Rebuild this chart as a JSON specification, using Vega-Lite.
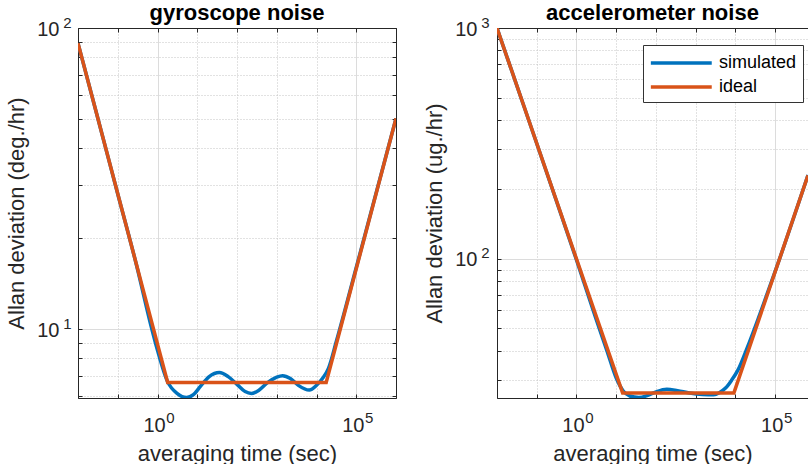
{
  "$schema": "https://vega.github.io/schema/vega-lite/v6.json",
  "padding": {"left": 5, "top": 2, "right": 0, "bottom": 0},
  "background": "white",
  "config": {
    "font": "Liberation Sans",
    "view": {"stroke": null},
    "axis": {"domainColor": "#262626", "tickColor": "#262626", "labelColor": "#262626", "titleColor": "#262626", "labelFontSize": 20, "titleFontSize": 22, "titleFontWeight": "normal", "labelFont": "Liberation Sans", "titleFont": "Liberation Sans", "gridColor": "#dcdcdc", "labelFlush": false, "labelOverlap": false},
    "title": {"fontSize": 22, "fontWeight": "bold", "color": "#000000", "anchor": "middle", "font": "Liberation Sans"}
  },
  "bounds": "flush",
  "spacing": 101,
  "resolve": {"scale": {"color": "independent"}, "legend": {"color": "independent"}},
  "datasets": {
    "gyro": [
      {"tau": 0.01, "dev": 89, "series": "simulated"},
      {"tau": 0.03, "dev": 51.4, "series": "simulated"},
      {"tau": 0.1, "dev": 28.1, "series": "simulated"},
      {"tau": 0.3, "dev": 16.2, "series": "simulated"},
      {"tau": 0.72, "dev": 10, "series": "simulated"},
      {"tau": 1, "dev": 8.5, "series": "simulated"},
      {"tau": 1.78, "dev": 6.7, "series": "simulated"},
      {"tau": 3.16, "dev": 6.1, "series": "simulated"},
      {"tau": 5.4, "dev": 5.92, "series": "simulated"},
      {"tau": 8, "dev": 6.05, "series": "simulated"},
      {"tau": 12, "dev": 6.45, "series": "simulated"},
      {"tau": 20, "dev": 6.95, "series": "simulated"},
      {"tau": 36, "dev": 7.17, "series": "simulated"},
      {"tau": 60, "dev": 6.95, "series": "simulated"},
      {"tau": 100, "dev": 6.55, "series": "simulated"},
      {"tau": 160, "dev": 6.2, "series": "simulated"},
      {"tau": 230, "dev": 6.11, "series": "simulated"},
      {"tau": 350, "dev": 6.25, "series": "simulated"},
      {"tau": 600, "dev": 6.65, "series": "simulated"},
      {"tau": 1000, "dev": 6.92, "series": "simulated"},
      {"tau": 1400, "dev": 7.0, "series": "simulated"},
      {"tau": 2200, "dev": 6.85, "series": "simulated"},
      {"tau": 3500, "dev": 6.5, "series": "simulated"},
      {"tau": 6600, "dev": 6.27, "series": "simulated"},
      {"tau": 10000, "dev": 6.5, "series": "simulated"},
      {"tau": 14100, "dev": 6.85, "series": "simulated"},
      {"tau": 20000, "dev": 7.4, "series": "simulated"},
      {"tau": 31600, "dev": 9.1, "series": "simulated"},
      {"tau": 100000, "dev": 16.0, "series": "simulated"},
      {"tau": 1000000, "dev": 50.1, "series": "simulated"},
      {"tau": 0.01, "dev": 89, "series": "ideal"},
      {"tau": 1.8, "dev": 6.64, "series": "ideal"},
      {"tau": 17540, "dev": 6.64, "series": "ideal"},
      {"tau": 1000000, "dev": 50.1, "series": "ideal"}
    ],
    "accel": [
      {"tau": 0.01, "dev": 1000, "series": "simulated"},
      {"tau": 0.03, "dev": 577, "series": "simulated"},
      {"tau": 0.1, "dev": 316, "series": "simulated"},
      {"tau": 0.3, "dev": 182, "series": "simulated"},
      {"tau": 1, "dev": 99, "series": "simulated"},
      {"tau": 3, "dev": 56, "series": "simulated"},
      {"tau": 6, "dev": 39.5, "series": "simulated"},
      {"tau": 10, "dev": 30.5, "series": "simulated"},
      {"tau": 15, "dev": 26.8, "series": "simulated"},
      {"tau": 22, "dev": 25.5, "series": "simulated"},
      {"tau": 37, "dev": 25.1, "series": "simulated"},
      {"tau": 60, "dev": 25.6, "series": "simulated"},
      {"tau": 100, "dev": 26.6, "series": "simulated"},
      {"tau": 187, "dev": 27.3, "series": "simulated"},
      {"tau": 350, "dev": 26.9, "series": "simulated"},
      {"tau": 700, "dev": 26.3, "series": "simulated"},
      {"tau": 1500, "dev": 25.9, "series": "simulated"},
      {"tau": 2820, "dev": 25.8, "series": "simulated"},
      {"tau": 3980, "dev": 26.4, "series": "simulated"},
      {"tau": 5620, "dev": 27.6, "series": "simulated"},
      {"tau": 7940, "dev": 29.8, "series": "simulated"},
      {"tau": 11500, "dev": 33, "series": "simulated"},
      {"tau": 20000, "dev": 41.5, "series": "simulated"},
      {"tau": 40000, "dev": 57, "series": "simulated"},
      {"tau": 100000, "dev": 88.5, "series": "simulated"},
      {"tau": 667000, "dev": 231, "series": "simulated"},
      {"tau": 0.01, "dev": 1000, "series": "ideal"},
      {"tau": 14.46, "dev": 26.3, "series": "ideal"},
      {"tau": 9120, "dev": 26.3, "series": "ideal"},
      {"tau": 667000, "dev": 230, "series": "ideal"}
    ]
  },
  "hconcat": [
    {
      "width": 318,
      "height": 370,
      "title": {"text": "gyroscope noise", "offset": -10},
      "data": {"name": "gyro"},
      "resolve": {"axis": {"x": "independent", "y": "independent"}},
      "layer": [
        {
          "mark": {"type": "line", "opacity": 0},
          "encoding": {
            "x": {"field": "tau", "type": "quantitative", "scale": {"type": "log", "domain": [0.01, 1000000], "nice": false}, "axis": {"orient": "bottom", "values": [0.01, 0.1, 1, 10, 100, 1000, 10000, 100000, 1000000], "grid": true, "gridDash": [1, 2], "gridColor": "#c4c4c4", "labels": false, "domain": false, "tickSize": -4, "title": null}},
            "y": {"field": "dev", "type": "quantitative", "scale": {"type": "log", "domain": [5.9, 100], "nice": false}, "axis": {"orient": "left", "values": [6, 7, 8, 9, 10, 20, 30, 40, 50, 60, 70, 80, 90, 100], "grid": true, "gridDash": [1, 2], "gridColor": "#c4c4c4", "labels": false, "domain": false, "tickSize": -4, "title": null}}
          }
        },
        {
          "mark": {"type": "line", "opacity": 0},
          "encoding": {
            "x": {"field": "tau", "type": "quantitative", "axis": {"orient": "bottom", "values": [1, 100000], "grid": true, "ticks": false, "labelPadding": 17, "labelOffset": -3.5, "labelExpr": "'10'", "title": "averaging time (sec)", "titlePadding": 8}},
            "y": {"field": "dev", "type": "quantitative", "axis": {"orient": "left", "values": [10, 100], "grid": true, "ticks": false, "labelPadding": 19, "labelOffset": 1, "labelExpr": "'10'", "title": "Allan deviation (deg./hr)", "titlePadding": 8}}
          }
        },
        {
          "mark": {"type": "line", "opacity": 0},
          "encoding": {
            "x": {"field": "tau", "type": "quantitative", "axis": {"orient": "bottom", "values": [1, 100000], "grid": false, "ticks": false, "domain": false, "labelPadding": 12, "labelOffset": 12.5, "labelFontSize": 15, "labelExpr": "datum.value < 2 ? '0' : '5'", "title": null}},
            "y": {"field": "dev", "type": "quantitative", "axis": {"orient": "left", "values": [10, 100], "grid": false, "ticks": false, "domain": false, "labelPadding": 7, "labelOffset": -6, "labelFontSize": 15, "labelExpr": "datum.value < 20 ? '1' : '2'", "title": null}}
          }
        },
        {
          "mark": {"type": "line", "opacity": 0},
          "encoding": {
            "x": {"field": "tau", "type": "quantitative", "axis": {"orient": "top", "values": [0.01, 0.1, 1, 10, 100, 1000, 10000, 100000, 1000000], "grid": false, "labels": false, "tickSize": -4, "title": null}},
            "y": {"field": "dev", "type": "quantitative", "axis": {"orient": "right", "values": [6, 7, 8, 9, 10, 20, 30, 40, 50, 60, 70, 80, 90, 100], "grid": false, "labels": false, "tickSize": -4, "title": null}}
          }
        },
        {
          "transform": [{"filter": "datum.series == 'simulated'"}],
          "mark": {"type": "line", "color": "#0072BD", "strokeWidth": 3.5, "interpolate": "monotone", "clip": true},
          "encoding": {
            "x": {"field": "tau", "type": "quantitative", "axis": null},
            "y": {"field": "dev", "type": "quantitative", "axis": null}
          }
        },
        {
          "transform": [{"filter": "datum.series == 'ideal'"}],
          "mark": {"type": "line", "color": "#D95319", "strokeWidth": 3.5, "clip": true},
          "encoding": {
            "x": {"field": "tau", "type": "quantitative", "axis": null},
            "y": {"field": "dev", "type": "quantitative", "axis": null}
          }
        }
      ]
    },
    {
      "width": 311,
      "height": 370,
      "title": {"text": "accelerometer noise", "offset": -10},
      "data": {"name": "accel"},
      "resolve": {"axis": {"x": "independent", "y": "independent"}},
      "layer": [
        {
          "mark": {"type": "line", "opacity": 0},
          "encoding": {
            "x": {"field": "tau", "type": "quantitative", "scale": {"type": "log", "domain": [0.01, 667000], "nice": false}, "axis": {"orient": "bottom", "values": [0.01, 0.1, 1, 10, 100, 1000, 10000, 100000], "grid": true, "gridDash": [1, 2], "gridColor": "#c4c4c4", "labels": false, "domain": false, "tickSize": -4, "title": null}},
            "y": {"field": "dev", "type": "quantitative", "scale": {"type": "log", "domain": [25, 1000], "nice": false}, "axis": {"orient": "left", "values": [30, 40, 50, 60, 70, 80, 90, 100, 200, 300, 400, 500, 600, 700, 800, 900, 1000], "grid": true, "gridDash": [1, 2], "gridColor": "#c4c4c4", "labels": false, "domain": false, "tickSize": -4, "title": null}}
          }
        },
        {
          "mark": {"type": "line", "opacity": 0},
          "encoding": {
            "x": {"field": "tau", "type": "quantitative", "axis": {"orient": "bottom", "values": [1, 100000], "grid": true, "ticks": false, "labelPadding": 17, "labelOffset": -3.5, "labelExpr": "'10'", "title": "averaging time (sec)", "titlePadding": 8}},
            "y": {"field": "dev", "type": "quantitative", "axis": {"orient": "left", "values": [100, 1000], "grid": true, "ticks": false, "labelPadding": 20, "labelOffset": 1, "labelExpr": "'10'", "title": "Allan deviation (ug./hr)", "titlePadding": 8}}
          }
        },
        {
          "mark": {"type": "line", "opacity": 0},
          "encoding": {
            "x": {"field": "tau", "type": "quantitative", "axis": {"orient": "bottom", "values": [1, 100000], "grid": false, "ticks": false, "domain": false, "labelPadding": 12, "labelOffset": 12.5, "labelFontSize": 15, "labelExpr": "datum.value < 2 ? '0' : '5'", "title": null}},
            "y": {"field": "dev", "type": "quantitative", "axis": {"orient": "left", "values": [100, 1000], "grid": false, "ticks": false, "domain": false, "labelPadding": 8, "labelOffset": -6, "labelFontSize": 15, "labelExpr": "datum.value < 200 ? '2' : '3'", "title": null}}
          }
        },
        {
          "mark": {"type": "line", "opacity": 0},
          "encoding": {
            "x": {"field": "tau", "type": "quantitative", "axis": {"orient": "top", "values": [0.01, 0.1, 1, 10, 100, 1000, 10000, 100000], "grid": false, "labels": false, "tickSize": -4, "title": null}},
            "y": {"field": "dev", "type": "quantitative", "axis": null}
          }
        },
        {
          "transform": [{"filter": "datum.series == 'simulated'"}],
          "mark": {"type": "line", "strokeWidth": 3.5, "interpolate": "monotone", "clip": true},
          "encoding": {
            "x": {"field": "tau", "type": "quantitative", "axis": null},
            "y": {"field": "dev", "type": "quantitative", "axis": null},
            "color": {"datum": "simulated", "scale": {"domain": ["simulated", "ideal"], "range": ["#0072BD", "#D95319"]}, "legend": {"orient": "none", "legendX": 146, "legendY": 17, "title": null, "symbolType": "M-1,0H5", "symbolSize": 412, "symbolStrokeWidth": 3.5, "labelOffset": 46, "labelFontSize": 18, "labelColor": "#000000", "labelFont": "Liberation Sans", "fillColor": "white", "strokeColor": "#333333", "padding": 6, "rowPadding": 3}}
          }
        },
        {
          "transform": [{"filter": "datum.series == 'ideal'"}],
          "mark": {"type": "line", "strokeWidth": 3.5, "clip": true},
          "encoding": {
            "x": {"field": "tau", "type": "quantitative", "axis": null},
            "y": {"field": "dev", "type": "quantitative", "axis": null},
            "color": {"datum": "ideal"}
          }
        }
      ]
    }
  ]
}
